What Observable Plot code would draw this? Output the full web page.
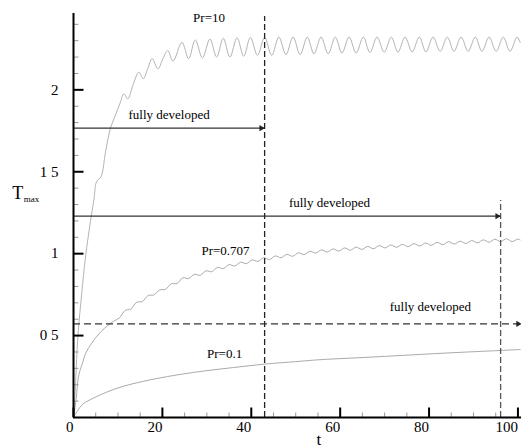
<!DOCTYPE html>
<html><head><meta charset="utf-8">
<script src="https://cdn.jsdelivr.net/npm/d3@7"></script>
<script src="https://cdn.jsdelivr.net/npm/@observablehq/plot@0.6"></script>
<style>body{margin:0;background:#fff} svg text{font-family:"Liberation Serif","DejaVu Serif",serif !important}</style>
</head><body><div id="chart"></div>
<script>
// ---- data: [t, Tmax] ----
const pr10 = [[0,0],[0.3,0.12],[1.0,0.5],[1.9,0.77],[2.7,0.98],[4.0,1.23],[4.6,1.33],[5.2,1.44],[6.2,1.47],[7.2,1.62],
  [8.3,1.764],[9.5,1.85],[10.5,1.92],[11.3,1.976],[12.2,1.945],[13.4,2.03],[14.7,2.108],[15.7,2.068],[16.7,2.13],[17.7,2.19],
  [19.0,2.128],[20.1,2.19],[21.2,2.24],[22.4,2.175],
  [24.4,2.29],[25.9,2.19],[27.4,2.305],[29.0,2.195],[30.7,2.31],[32.2,2.20],[33.7,2.315],[35.2,2.20],[36.8,2.318],[38.3,2.205],
  [39.8,2.32],[41.4,2.21],[43.0,2.32],[44.6,2.21],[46.2,2.322],[47.8,2.215],[49.4,2.322],[51.0,2.215],[52.6,2.322],[54.1,2.22],
  [55.7,2.322],[57.3,2.22],[58.9,2.322],[60.4,2.225],[62.0,2.322],[63.6,2.225],[65.2,2.322],[66.7,2.228],[68.3,2.322],[69.9,2.23],
  [71.5,2.322],[73.0,2.23],[74.6,2.322],[76.2,2.232],[77.8,2.322],[79.3,2.232],[80.9,2.322],[82.5,2.235],[84.1,2.322],[85.6,2.235],
  [87.2,2.322],[88.8,2.235],[90.4,2.322],[91.9,2.235],[93.5,2.322],[95.1,2.235],[96.7,2.322],[98.2,2.235],[99.8,2.322],[100.5,2.29]];

const pr0707 = [[0,0],[0.5,0.09],[1.2,0.26],[2.0,0.33],[2.7,0.39],[4.0,0.45],[5.7,0.51],[7.0,0.545],
  [9.0,0.588],[10.3,0.607],[11.6,0.653],[12.9,0.662],[14.2,0.703],[15.5,0.708],[16.8,0.745],[18.1,0.748],[19.4,0.779],[20.7,0.782],
  [22.0,0.816],[23.3,0.818],[24.6,0.853],[25.9,0.848],[27.2,0.874],[28.5,0.868],[29.8,0.895],[31.1,0.890],[32.4,0.916],[33.7,0.909],
  [35.0,0.933],[36.3,0.925],[37.6,0.948],[38.9,0.939],[40.2,0.962],[41.5,0.953],[42.8,0.975],[44.1,0.964],[45.4,0.986],[46.7,0.975],
  [48.0,0.996],[49.3,0.984],[50.6,1.005],[51.9,0.994],[53.2,1.015],[54.5,1.004],[55.8,1.023],[57.1,1.010],[58.4,1.029],[59.7,1.016],
  [61.0,1.035],[62.3,1.021],[63.6,1.040],[64.9,1.026],[66.2,1.044],[67.5,1.030],[68.8,1.049],[70.1,1.035],[71.4,1.053],[72.7,1.039],
  [74.0,1.057],[75.3,1.043],[76.6,1.061],[77.9,1.047],[79.2,1.065],[80.5,1.051],[81.8,1.069],[83.1,1.055],[84.4,1.073],[85.7,1.059],
  [87.0,1.076],[88.3,1.062],[89.6,1.080],[90.9,1.066],[92.2,1.084],[93.5,1.070],[94.8,1.088],[96.1,1.074],[97.4,1.091],[98.7,1.074],
  [100.0,1.089],[100.5,1.084]];

const pr01 = [[0,0],[0.5,0.025],[1,0.045],[2,0.08],[3.5,0.105],[5.7,0.134],[9.4,0.175],[13.2,0.205],[18.4,0.236],[24,0.263],
  [30,0.286],[36,0.305],[43,0.326],[50,0.341],[55,0.352],[62,0.362],[70,0.373],[78,0.385],[85,0.395],[92,0.404],[96,0.409],[100.5,0.415]];

// "fully developed" markers
const devT = [43.0, 96.1];          // vertical dashed lines (t)
const devTop = [2.448, 1.325];      // their upper ends (Tmax)
const arrowV = [1.766, 1.229, 0.572]; // horizontal arrows (Tmax)
const arrowEnd = [43.0, 96.1, 100.8]; // arrow tips (t)

// ticks
const xMajor = [0, 20, 40, 60, 80, 100];
const xMinor = [5,10,15,25,30,35,45,50,55,65,70,75,85,90,95];
const yMajor = [0.5, 1, 1.5, 2];
const yMajorLabels = ["0 5", "1", "1 5", "2"];
const yMinor = [0.1,0.2,0.3,0.4,0.6,0.7,0.8,0.9,1.1,1.2,1.3,1.4,1.6,1.7,1.8,1.9,2.1,2.2,2.3,2.4];

// ---- layout ----
const W = 521, H = 448, mL = 73, mR = 0, mT = 13, mB = 31;
const xDom = [0, 100.8], yDom = [0, 2.466];
const pxT = (W - mL - mR) / (xDom[1] - xDom[0]);
const pxV = (H - mT - mB) / (yDom[1] - yDom[0]);

const P = d => d[0], V = d => d[1];
const curveStyle = {x: P, y: V, curve: "catmull-rom", stroke: "#aaaaaa", strokeWidth: 1};
const serif = "Liberation Serif";
const txt = {fill: "#000", fontFamily: serif};

const arrows = arrowV.map((v, i) => ({v, end: arrowEnd[i], dashed: i === 2}));
const devs = devT.map((t, i) => ({t, top: devTop[i]}));

const chart = Plot.plot({
  width: W, height: H, marginLeft: mL, marginRight: mR, marginTop: mT, marginBottom: mB,
  x: {domain: xDom, axis: null},
  y: {domain: yDom, axis: null},
  style: {fontFamily: serif, background: "#fff", overflow: "visible", color: "#000"},
  marks: [
    // curves
    Plot.line(pr01, curveStyle),
    Plot.line(pr0707, curveStyle),
    Plot.line(pr10, {...curveStyle, stroke: "#b4b4b4"}),
    // vertical dashed lines
    Plot.ruleX(devs, {x: "t", y1: 0, y2: "top", stroke: (d, i) => i === 0 ? "#222" : "#555", strokeWidth: 1.3, strokeDasharray: "6,3"}),
    // horizontal arrows
    Plot.ruleY(arrows.filter(d => !d.dashed), {y: "v", x1: 0, x2: d => d.end, stroke: "#333", strokeWidth: 1.3}),
    Plot.ruleY(arrows.filter(d => d.dashed), {y: "v", x1: 0, x2: d => d.end, stroke: "#333", strokeWidth: 1.3, strokeDasharray: "7,4"}),
    Plot.dot(arrows, {x: "end", y: "v", symbol: "triangle", r: 2.3, rotate: 90, fill: "#222", stroke: "none", dx: -3.4}),
    // ticks
    Plot.link(xMinor, {x1: d => d, x2: d => d, y1: 0, y2: 5 / pxV, stroke: "#999", strokeWidth: 1}),
    Plot.link(xMajor, {x1: d => d, x2: d => d, y1: 0, y2: 10 / pxV, stroke: "#000", strokeWidth: 2}),
    Plot.link(yMinor, {y1: d => d, y2: d => d, x1: 0, x2: 5 / pxT, stroke: "#999", strokeWidth: 1}),
    Plot.link(yMajor, {y1: d => d, y2: d => d, x1: 0, x2: 10 / pxT, stroke: "#000", strokeWidth: 2}),
    // axis lines
    Plot.ruleX([0], {y1: 0, y2: yDom[1], stroke: "#000", strokeWidth: 2}),
    Plot.ruleY([0], {x1: 0, x2: xDom[1], stroke: "#000", strokeWidth: 2}),
    // tick labels
    Plot.text(xMajor, {x: d => d, y: 0, text: d => String(d), textAnchor: "end", lineAnchor: "top", dy: 4, fontSize: 15, ...txt}),
    Plot.text(yMajor, {x: 0, y: d => d, text: (d, i) => yMajorLabels[i], textAnchor: "end", dx: -15, fontSize: 15, ...txt}),
    // axis titles
    Plot.text(["T"], {x: -13.8, y: 1.371, text: d => d, textAnchor: "start", fontSize: 18, ...txt}),
    Plot.text(["max"], {x: -11.2, y: 1.332, text: d => d, textAnchor: "start", fontSize: 9, ...txt}),
    Plot.text(["t"], {x: 55.2, y: -0.135, text: d => d, fontSize: 17, ...txt}),
    // annotations
    Plot.text(["Pr=10"], {x: 30.5, y: 2.439, text: d => d, fontSize: 13, ...txt}),
    Plot.text(["Pr=0.707"], {x: 34.2, y: 1.016, text: d => d, fontSize: 13, ...txt}),
    Plot.text(["Pr=0.1"], {x: 34.0, y: 0.391, text: d => d, fontSize: 13, ...txt}),
    Plot.text(["fully developed"], {x: 21.5, y: 1.847, text: d => d, fontSize: 13, ...txt}),
    Plot.text(["fully developed"], {x: 57.6, y: 1.313, text: d => d, fontSize: 13, ...txt}),
    Plot.text(["fully developed"], {x: 80.3, y: 0.675, text: d => d, fontSize: 13, ...txt})
  ]
});
document.getElementById("chart").appendChild(chart);
</script>
</body></html>
